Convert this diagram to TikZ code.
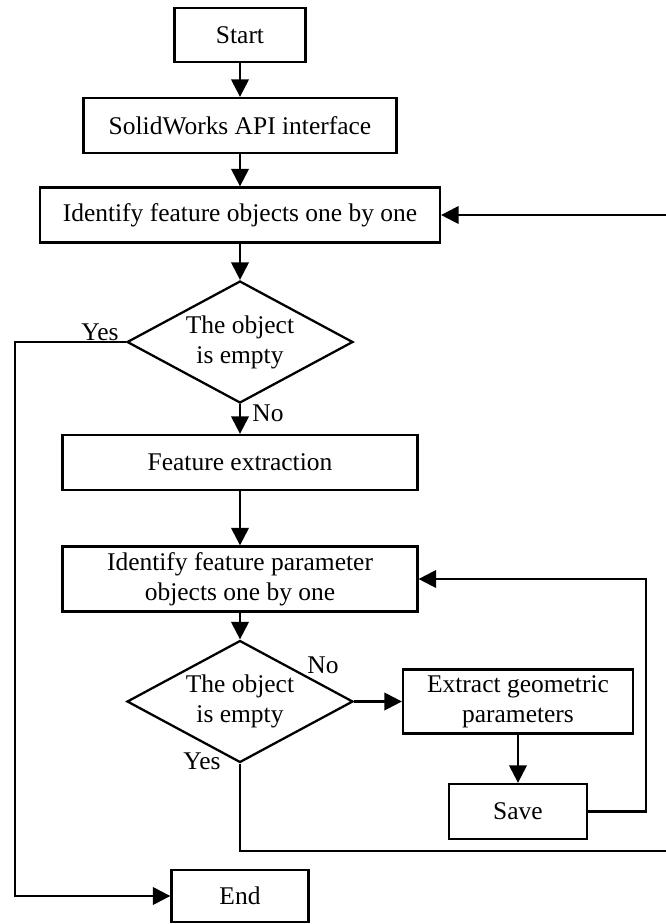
\documentclass[tikz,border=0pt]{standalone}
\usepackage{fontspec}
\setmainfont{Liberation Serif}
\usetikzlibrary{shapes.geometric,arrows.meta}
\begin{document}
\begin{tikzpicture}[x=0.02cm,y=-0.02cm,
  every node/.style={font=\fontsize{14.5}{17}\selectfont},
  stepbox/.style={draw,line width=1.3pt,align=center,inner sep=0pt},
  decision/.style={draw,diamond,aspect=1.85,line width=1.3pt,align=center,inner sep=0pt,
    minimum width=4.52cm,minimum height=2.44cm},
  flow/.style={line width=1.3pt,-{Triangle[length=10pt,width=10pt]}}]
\useasboundingbox (0,0) rectangle (666,924);

% process steps
\node[stepbox,minimum width=2.62cm,minimum height=1.08cm] (start) at (240,35) {Start};
\node[stepbox,minimum width=6.26cm,minimum height=1.1cm] (api) at (240,125.5) {SolidWorks API interface};
\node[stepbox,minimum width=8.0cm,minimum height=1.1cm] (ident) at (240,215) {Identify feature objects one by one};
\node[decision] (empty1) at (240,342) {The object\\is empty};
\node[stepbox,minimum width=7.1cm,minimum height=1.1cm] (extract) at (240,462.5) {Feature extraction};
\node[stepbox,minimum width=7.1cm,minimum height=1.3cm] (params) at (240,579) {Identify feature parameter\\objects one by one};
\node[decision] (empty2) at (240,701.5) {The object\\is empty};
\node[stepbox,minimum width=4.6cm,minimum height=1.28cm] (geom) at (518,701.5) {Extract geometric\\parameters};
\node[stepbox,minimum width=2.76cm,minimum height=1.1cm] (save) at (518,811.5) {Save};
\node[stepbox,minimum width=2.74cm,minimum height=1.04cm] (finish) at (240,896) {End};

% turning points of the return lines
\coordinate (leftrail) at (15,342);
\coordinate (saverail) at (646,811.5);
\coordinate (backrail) at (668,851);

% connectors
\draw[flow] (start) -- (api);
\draw[flow] (api) -- (ident);
\draw[flow] (ident) -- (empty1);
\draw[flow] (empty1.south) -- (extract.north);
\draw[flow] (empty1.west) -- (leftrail) |- (finish.west);
\draw[flow] (extract) -- (params);
\draw[flow] (params) -- (empty2);
\draw[flow] (empty2.east) -- (geom.west);
\draw[flow] (geom) -- (save);
\draw[flow] (save.east) -- (saverail) |- (params.east);
\draw[flow] (empty2.south) |- (backrail) |- (ident.east);

% branch labels
\node (no1) at (268,413) {No};
\node (yes1) at (100,332) {Yes};
\node (no2) at (323,665) {No};
\node (yes2) at (202,761) {Yes};
\end{tikzpicture}
\end{document}
